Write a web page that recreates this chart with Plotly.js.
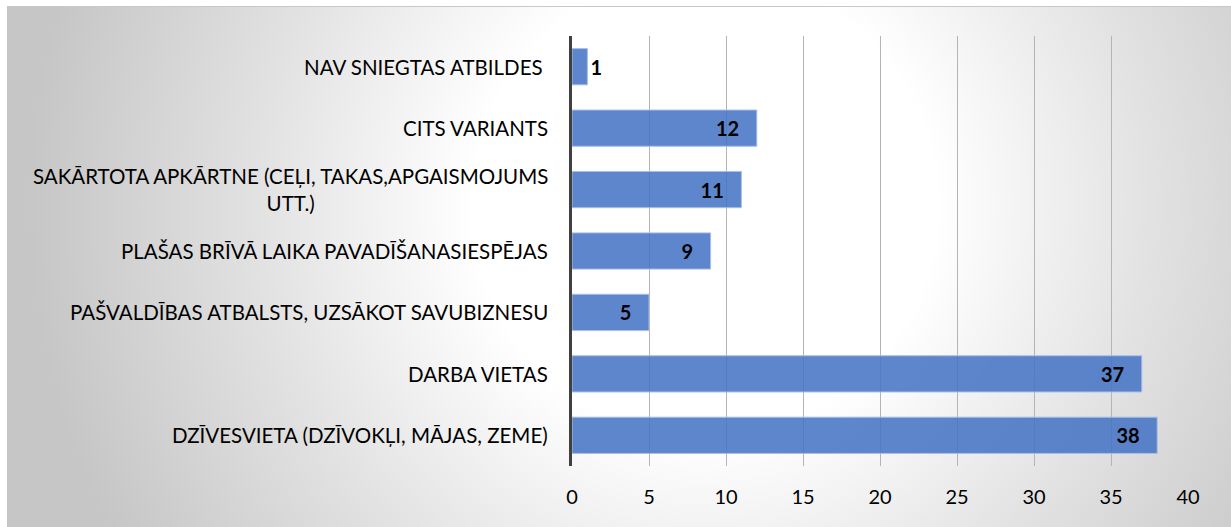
<!DOCTYPE html>
<html>
<head>
<meta charset="utf-8">
<script src="https://cdn.plot.ly/plotly-3.0.1.min.js"></script>
<style>
html,body{margin:0;padding:0;background:#fff;}
#wrap{position:absolute;left:7px;top:6px;width:1224px;height:521px;
 border-top:1px solid #c8c8c8;
 background:radial-gradient(circle farthest-corner at 57% 38%, #ffffff 0%, #ffffff 30%, #e2e2e2 58%, #c6c6c6 88%);}
#chart{position:absolute;left:0;top:0;width:1231px;height:527px;}
</style>
</head>
<body>
<div id="wrap"></div>
<div id="chart"></div>
<script>
const categories = [
  "NAV SNIEGTAS ATBILDES ",
  "CITS VARIANTS",
  "SAKĀRTOTA APKĀRTNE (CEĻI, TAKAS,APGAISMOJUMS<br>UTT.)",
  "PLAŠAS BRĪVĀ LAIKA PAVADĪŠANASIESPĒJAS",
  "PAŠVALDĪBAS ATBALSTS, UZSĀKOT SAVUBIZNESU",
  "DARBA VIETAS",
  "DZĪVESVIETA (DZĪVOKĻI, MĀJAS, ZEME)"
];
const values = [1, 12, 11, 9, 5, 37, 38];
const xTicks = [0, 5, 10, 15, 20, 25, 30, 35, 40];

const font = "Lato, 'Open Sans', sans-serif";
const pad = '\u00a0\u00a0\u00a0';

const trace = {
  type: 'bar',
  orientation: 'h',
  y: categories,
  x: values,
  text: values.map(v => String(v) + pad),
  textposition: 'auto',
  constraintext: 'none',
  insidetextanchor: 'end',
  insidetextfont: {family: font, size: 20, color: '#000', weight: 'bold'},
  outsidetextfont: {family: font, size: 20, color: '#000', weight: 'bold'},
  cliponaxis: false,
  marker: {color: 'rgba(68,114,196,0.86)', line: {color: '#a9bfe6', width: 1}},
  hoverinfo: 'none'
};

const annotations = categories.map(c => ({
  xref: 'paper', yref: 'y', x: 0, y: c,
  xanchor: 'right', yanchor: 'middle', xshift: -22,
  text: c.replace(/ $/, '\u00a0'), showarrow: false, align: 'center',
  font: {family: font, size: 20.5, color: '#000'}
}));

const layout = {
  width: 1231, height: 527,
  margin: {l: 572, r: 43, t: 36, b: 61},
  paper_bgcolor: 'rgba(0,0,0,0)',
  plot_bgcolor: 'rgba(0,0,0,0)',
  bargap: 0.41,
  showlegend: false,
  font: {family: font, size: 20, color: '#000'},
  xaxis: {
    range: [0, 40], tickvals: xTicks, ticktext: xTicks.map(String),
    showgrid: true, gridcolor: '#b4b4b4', gridwidth: 1,
    zeroline: false, showline: false, ticks: '',
    ticklabelstandoff: 17,
    tickfont: {family: font, size: 20, color: '#000'}
  },
  yaxis: {
    type: 'category', autorange: 'reversed',
    showticklabels: false, ticks: '',
    showline: true, linecolor: '#404040', linewidth: 3,
    showgrid: false, zeroline: false
  },
  annotations: annotations
};

Plotly.newPlot('chart', [trace], layout, {displayModeBar: false, staticPlot: true});
</script>
</body>
</html>
